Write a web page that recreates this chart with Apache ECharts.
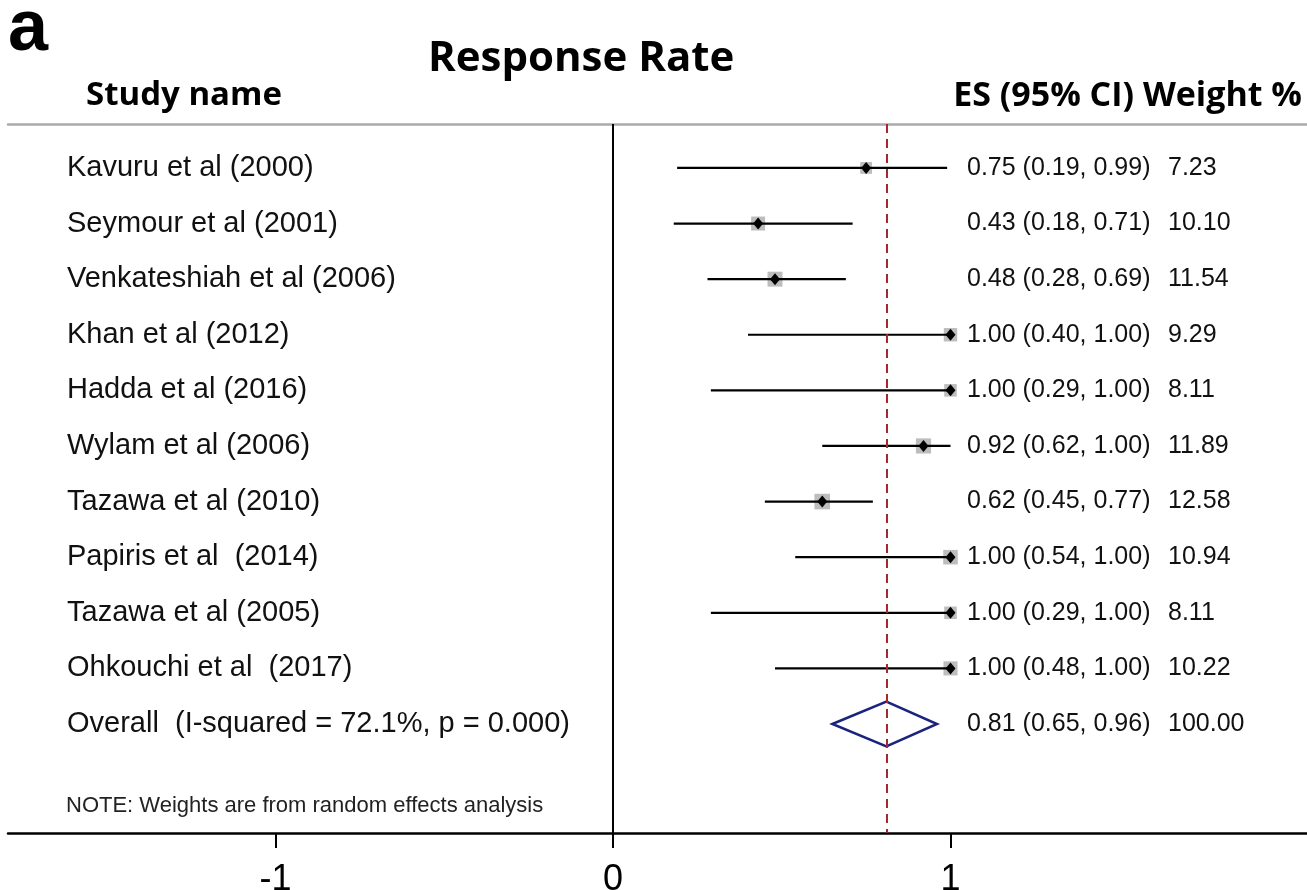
<!DOCTYPE html>
<html>
<head>
<meta charset="utf-8">
<script src="https://cdn.jsdelivr.net/npm/echarts@6/dist/echarts.min.js"></script>
<style>html,body{margin:0;padding:0;background:#fff;}#c{width:1307px;height:890px;}</style>
</head>
<body>
<div id="c"></div>
<script>
var studies = ['Kavuru et al (2000)','Seymour et al (2001)','Venkateshiah et al (2006)','Khan et al (2012)','Hadda et al (2016)','Wylam et al (2006)','Tazawa et al (2010)','Papiris et al  (2014)','Tazawa et al (2005)','Ohkouchi et al  (2017)'];
var es = [0.75,0.43,0.48,1.00,1.00,0.92,0.62,1.00,1.00,1.00];
var lo = [0.19,0.18,0.28,0.40,0.29,0.62,0.45,0.54,0.29,0.48];
var hi = [0.99,0.71,0.69,1.00,1.00,1.00,0.77,1.00,1.00,1.00];
var weights = [7.23,10.10,11.54,9.29,8.11,11.89,12.58,10.94,8.11,10.22];
var overallLabel = 'Overall  (I-squared = 72.1%, p = 0.000)';
var overallEs = 0.81, overallLo = 0.65, overallHi = 0.96, overallWeight = 100.00;
var xTicks = [-1, 0, 1];
var noteText = 'NOTE: Weights are from random effects analysis';

var chart = echarts.init(document.getElementById('c'), null, {renderer:'canvas'});
var sans = 'Liberation Sans, Arial, sans-serif';
var headFont = 'Open Sans, Noto Sans, sans-serif';

var rows = studies.map(function(s, i){ return [es[i], i, lo[i], hi[i], weights[i], s]; });

function ciText(a, b, c){ return a.toFixed(2)+' ('+b.toFixed(2)+', '+c.toFixed(2)+')'; }

var option = {
  backgroundColor: '#fff',
  animation: false,
  grid: {left: 8, right: 0, top: 124, bottom: 57, containLabel: false, outerBoundsMode: 'none'},
  xAxis: [{
    type: 'value', position: 'bottom',
    min: -1.79259, max: 2.0563,
    splitLine: {show:false},
    axisLine: {show:true, onZero:false, lineStyle:{color:'#000', width:2.5}},
    axisTick: {show:true, length:15, lineStyle:{color:'#000', width:2}, customValues: xTicks},
    axisLabel: {show:true, color:'#000', fontSize:36, fontFamily: sans, margin: 29, customValues: xTicks,
      formatter: function(v){ return String(v); }}
  },{
    type: 'value', position: 'top',
    min: -1.79259, max: 2.0563,
    splitLine: {show:false},
    axisLine: {show:true, onZero:false, lineStyle:{color:'#aaa', width:2.5}},
    axisTick: {show:false}, axisLabel: {show:false}
  }],
  yAxis: {
    type: 'value', inverse: true, min: -0.79, max: 11.96, show: false
  },
  graphic: [
    {type:'text', style:{x: 8, y: 30, text:'a', font:'bold 72px Liberation Sans, Arial, sans-serif', fill:'#000', verticalAlign:'middle'}},
    {type:'text', style:{x: 428, y: 59, text:'Response Rate', font:'bold 42px '+headFont, fill:'#000', verticalAlign:'middle'}},
    {type:'text', style:{x: 86, y: 96, text:'Study name', font:'bold 33px '+headFont, fill:'#000', verticalAlign:'middle'}},
    {type:'text', style:{x: 1302, y: 96, text:'ES (95% CI) Weight %', font:'bold 34px '+headFont, fill:'#000', verticalAlign:'middle', align:'right'}},
    {type:'text', style:{x: 66, y: 806, text: noteText, font:'22px '+sans, fill:'#222', verticalAlign:'middle'}}
  ],
  series: [
    {
      type: 'custom',
      coordinateSystem: 'cartesian2d',
      data: rows,
      encode: {x: 0, y: 1},
      renderItem: function(params, api){
        var y = api.value(1);
        var pe = api.coord([api.value(0), y]);
        var pl = api.coord([api.value(2), y]);
        var ph = api.coord([api.value(3), y]);
        var sq = Math.sqrt(api.value(4)) * 4.4;
        var dx = 5, dy = 6;
        return {type:'group', children:[
          {type:'text', style:{text: studies[params.dataIndex], x: 67, y: pe[1], font:'29px '+sans, fill:'#111', verticalAlign:'middle'}},
          {type:'rect', shape:{x: pe[0]-sq/2, y: pe[1]-sq/2, width: sq, height: sq}, style:{fill:'#bdbdbd'}},
          {type:'line', shape:{x1: pl[0], y1: pl[1], x2: ph[0], y2: ph[1]}, style:{stroke:'#000', lineWidth:2.2}},
          {type:'polygon', shape:{points:[[pe[0]-dx,pe[1]],[pe[0],pe[1]-dy],[pe[0]+dx,pe[1]],[pe[0],pe[1]+dy]]}, style:{fill:'#000'}},
          {type:'text', style:{text: ciText(api.value(0), api.value(2), api.value(3)), x: 967, y: pe[1], font:'25px '+sans, fill:'#111', verticalAlign:'middle'}},
          {type:'text', style:{text: api.value(4).toFixed(2), x: 1168, y: pe[1], font:'25px '+sans, fill:'#111', verticalAlign:'middle'}}
        ]};
      },
      markLine: {
        silent: true, symbol: ['none','none'], label:{show:false},
        data: [
          {xAxis: 0, lineStyle:{color:'#000', width:2, type:'solid'}},
          {xAxis: overallEs, lineStyle:{color:'#a3282f', width:2, type:[9,6]}}
        ]
      },
      z: 3
    },
    {
      type: 'custom',
      coordinateSystem: 'cartesian2d',
      data: [[overallEs, studies.length, overallLo, overallHi, overallWeight]],
      encode: {x: 0, y: 1},
      renderItem: function(params, api){
        var y = api.value(1);
        var pe = api.coord([api.value(0), y]);
        var pl = api.coord([api.value(2), y]);
        var ph = api.coord([api.value(3), y]);
        var h = 22.5;
        return {type:'group', children:[
          {type:'text', style:{text: overallLabel, x: 67, y: pe[1], font:'29px '+sans, fill:'#111', verticalAlign:'middle'}},
          {type:'polygon', shape:{points:[[pl[0],pe[1]],[pe[0],pe[1]-h],[ph[0],pe[1]],[pe[0],pe[1]+h]]}, style:{fill:'rgba(255,255,255,0)', stroke:'#1a237e', lineWidth:2.5}},
          {type:'text', style:{text: ciText(api.value(0), api.value(2), api.value(3)), x: 967, y: pe[1], font:'25px '+sans, fill:'#111', verticalAlign:'middle'}},
          {type:'text', style:{text: api.value(4).toFixed(2), x: 1168, y: pe[1], font:'25px '+sans, fill:'#111', verticalAlign:'middle'}}
        ]};
      },
      z: 4
    }
  ]
};
chart.setOption(option);
</script>
</body>
</html>
